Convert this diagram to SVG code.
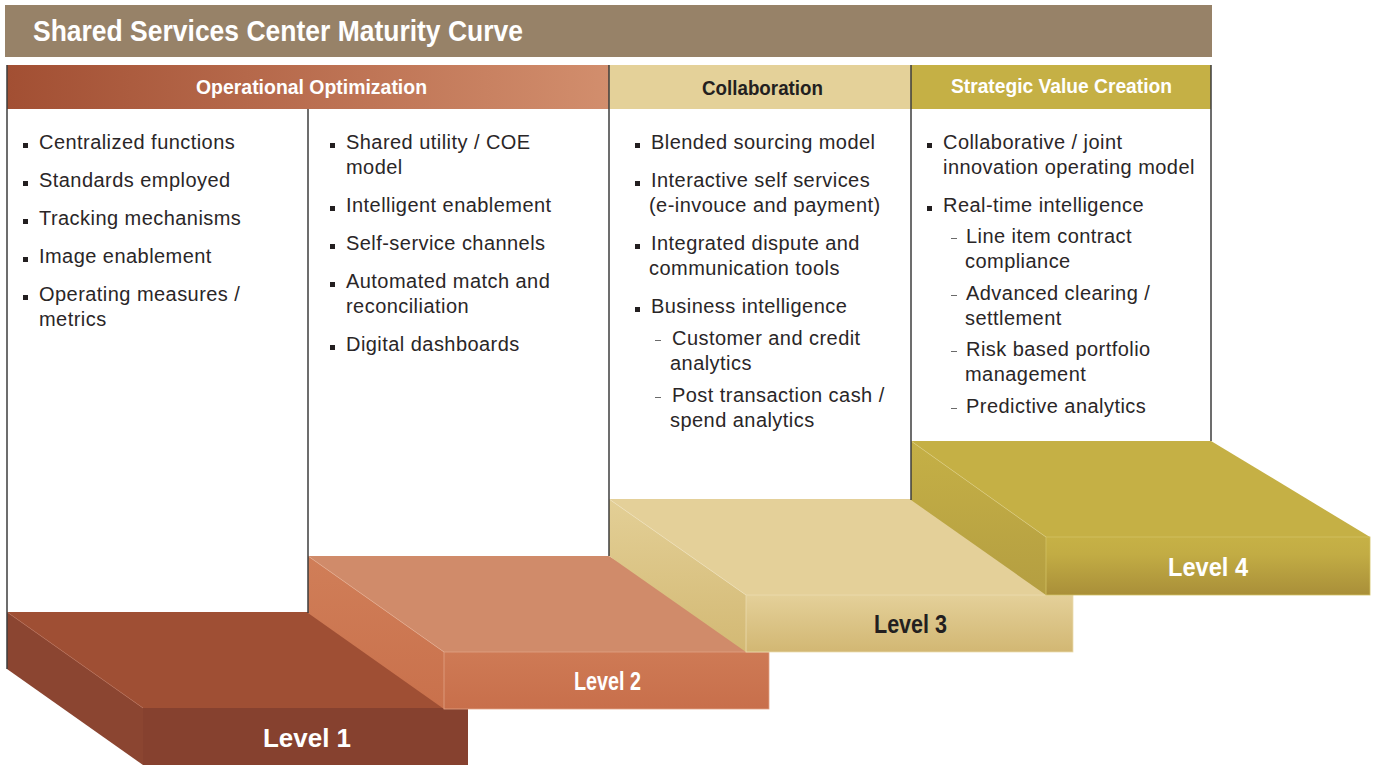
<svg xmlns="http://www.w3.org/2000/svg" width="1376" height="765" viewBox="0 0 1376 765">
<defs>
<linearGradient id="gOp" x1="0" y1="0" x2="1" y2="0"><stop offset="0" stop-color="#A24F33"/><stop offset="1" stop-color="#D28E6D"/></linearGradient>
<linearGradient id="g2L" x1="0" y1="0" x2="0" y2="1"><stop offset="0" stop-color="#D07E58"/><stop offset="1" stop-color="#C9714C"/></linearGradient>
<linearGradient id="g2F" x1="0" y1="0" x2="0" y2="1"><stop offset="0" stop-color="#CE7A55"/><stop offset="1" stop-color="#C86F4B"/></linearGradient>
<linearGradient id="g3L" x1="0" y1="0" x2="0" y2="1"><stop offset="0" stop-color="#E3CF96"/><stop offset="1" stop-color="#D3B974"/></linearGradient>
<linearGradient id="g3F" x1="0" y1="0" x2="0" y2="1"><stop offset="0" stop-color="#E4D099"/><stop offset="1" stop-color="#D2B773"/></linearGradient>
<linearGradient id="g4L" x1="0" y1="0" x2="0" y2="1"><stop offset="0" stop-color="#C5B046"/><stop offset="1" stop-color="#B49E41"/></linearGradient>
<linearGradient id="g4F" x1="0" y1="0" x2="0" y2="1"><stop offset="0" stop-color="#C6B146"/><stop offset="0.3" stop-color="#C2AC44"/><stop offset="1" stop-color="#A98F39"/></linearGradient>
</defs>
<style>
.hd{font-family:"Liberation Sans",Arial,sans-serif;font-weight:bold}
.tx{font-family:"Liberation Sans",Arial,sans-serif;font-size:20px;letter-spacing:0.45px;fill:#2a2627}
.bl{fill:#231F20}
.ds{fill:#6a6a6a}
.bd{stroke:#3c3c3c;stroke-width:1.5;fill:none}
.lv{font-family:"Liberation Sans",Arial,sans-serif;font-weight:bold;font-size:26px}
</style>
<rect width="1376" height="765" fill="#ffffff"/>

<g id="title">
<rect x="5" y="5" width="1207" height="52" fill="#978268"/>
<text class="hd" x="33" y="41" font-size="29" fill="#ffffff" textLength="490" lengthAdjust="spacingAndGlyphs">Shared Services Center Maturity Curve</text>
</g>

<g id="level1">
<polygon points="7,612 308,612 468,708 143,708" fill="#9F4F34"/>
<polygon points="7,612 143,708 143,765 7,669" fill="#8B4531"/>
<rect x="143" y="708" width="325" height="57" fill="#86412F"/>
<line x1="7" y1="612" x2="143" y2="708" stroke="#B86A50" stroke-width="0.6"/>
<text class="lv" x="263" y="747" fill="#ffffff" textLength="88" lengthAdjust="spacingAndGlyphs">Level 1</text>
</g>

<g id="level2">
<polygon points="308,556 609,556 769,652 444,652" fill="#D08B6A"/>
<polygon points="308,556 444,652 444,709 308,613" fill="url(#g2L)"/>
<rect x="444" y="652" width="325" height="57" fill="url(#g2F)" stroke="#E0A284" stroke-width="0.8"/>
<line x1="308" y1="556" x2="444" y2="652" stroke="#E6AE92" stroke-width="0.6"/>
<text class="lv" x="574" y="690" fill="#ffffff" font-size="25" textLength="67" lengthAdjust="spacingAndGlyphs">Level 2</text>
</g>

<g id="level3">
<polygon points="609,499 911,499 1073,595 746,595" fill="#E4D099"/>
<polygon points="609,499 746,595 746,652 609,556" fill="url(#g3L)"/>
<rect x="746" y="595" width="327" height="57" fill="url(#g3F)" stroke="#EADBAE" stroke-width="0.8"/>
<line x1="609" y1="499" x2="746" y2="595" stroke="#F0E3BD" stroke-width="0.6"/>
<text class="lv" x="874" y="633" fill="#231F20" textLength="73" lengthAdjust="spacingAndGlyphs">Level 3</text>
</g>

<g id="level4">
<polygon points="911,441 1211,441 1370,537 1046,537" fill="#C5B045"/>
<polygon points="911,441 1046,537 1046,595 911,500" fill="url(#g4L)"/>
<rect x="1046" y="537" width="324" height="58" fill="url(#g4F)" stroke="#D3C163" stroke-width="0.8"/>
<line x1="911" y1="441" x2="1046" y2="537" stroke="#DCCD7E" stroke-width="0.6"/>
<text class="lv" x="1168" y="576" fill="#ffffff" textLength="80" lengthAdjust="spacingAndGlyphs">Level 4</text>
</g>

<g id="header-operational">
<rect x="7" y="65" width="602" height="44" fill="url(#gOp)"/>
<text class="hd" x="196" y="94" font-size="21" fill="#ffffff" textLength="231" lengthAdjust="spacingAndGlyphs">Operational Optimization</text>
</g>
<g id="header-collaboration">
<rect x="609" y="65" width="302" height="44" fill="#E4D199"/>
<text class="hd" x="702" y="95" font-size="21" fill="#231F20" textLength="121" lengthAdjust="spacingAndGlyphs">Collaboration</text>
</g>
<g id="header-strategic">
<rect x="911" y="65" width="300" height="44" fill="#C5B045"/>
<text class="hd" x="951" y="93" font-size="21" fill="#ffffff" textLength="221" lengthAdjust="spacingAndGlyphs">Strategic Value Creation</text>
</g>

<g id="borders">
<line class="bd" x1="7" y1="65" x2="7" y2="669"/>
<line class="bd" x1="308" y1="109" x2="308" y2="613"/>
<line class="bd" x1="609" y1="65" x2="609" y2="556"/>
<line class="bd" x1="911" y1="65" x2="911" y2="500"/>
<line class="bd" x1="1211" y1="65" x2="1211" y2="441"/>
</g>

<g id="column1">
<rect class="bl" x="23" y="143" width="5" height="5"/>
<text class="tx" x="39" y="149">Centralized functions</text>
<rect class="bl" x="23" y="181" width="5" height="5"/>
<text class="tx" x="39" y="187">Standards employed</text>
<rect class="bl" x="23" y="219" width="5" height="5"/>
<text class="tx" x="39" y="225">Tracking mechanisms</text>
<rect class="bl" x="23" y="257" width="5" height="5"/>
<text class="tx" x="39" y="263">Image enablement</text>
<rect class="bl" x="23" y="295" width="5" height="5"/>
<text class="tx" x="39" y="301">Operating measures /</text>
<text class="tx" x="39" y="326">metrics</text>
</g>

<g id="column2">
<rect class="bl" x="330" y="143" width="5" height="5"/>
<text class="tx" x="346" y="149">Shared utility / COE</text>
<text class="tx" x="346" y="174">model</text>
<rect class="bl" x="330" y="206" width="5" height="5"/>
<text class="tx" x="346" y="212">Intelligent enablement</text>
<rect class="bl" x="330" y="244" width="5" height="5"/>
<text class="tx" x="346" y="250">Self-service channels</text>
<rect class="bl" x="330" y="282" width="5" height="5"/>
<text class="tx" x="346" y="288">Automated match and</text>
<text class="tx" x="346" y="313">reconciliation</text>
<rect class="bl" x="330" y="345" width="5" height="5"/>
<text class="tx" x="346" y="351">Digital dashboards</text>
</g>

<g id="column3">
<rect class="bl" x="635" y="143" width="5" height="5"/>
<text class="tx" x="651" y="149">Blended sourcing model</text>
<rect class="bl" x="635" y="181" width="5" height="5"/>
<text class="tx" x="651" y="187">Interactive self services</text>
<text class="tx" x="649" y="212">(e-invouce and payment)</text>
<rect class="bl" x="635" y="244" width="5" height="5"/>
<text class="tx" x="651" y="250">Integrated dispute and</text>
<text class="tx" x="649" y="275">communication tools</text>
<rect class="bl" x="635" y="307" width="5" height="5"/>
<text class="tx" x="651" y="313">Business intelligence</text>
<rect class="ds" x="655" y="340" width="6" height="1"/>
<text class="tx" x="672" y="345">Customer and credit</text>
<text class="tx" x="670" y="370">analytics</text>
<rect class="ds" x="655" y="397" width="6" height="1"/>
<text class="tx" x="672" y="402">Post transaction cash /</text>
<text class="tx" x="670" y="427">spend analytics</text>
</g>

<g id="column4">
<rect class="bl" x="927" y="143" width="5" height="5"/>
<text class="tx" x="943" y="149">Collaborative / joint</text>
<text class="tx" x="943" y="174">innovation operating model</text>
<rect class="bl" x="927" y="206" width="5" height="5"/>
<text class="tx" x="943" y="212">Real-time intelligence</text>
<rect class="ds" x="951" y="238" width="6" height="1"/>
<text class="tx" x="966" y="243">Line item contract</text>
<text class="tx" x="965" y="268">compliance</text>
<rect class="ds" x="951" y="295" width="6" height="1"/>
<text class="tx" x="966" y="300">Advanced clearing /</text>
<text class="tx" x="965" y="325">settlement</text>
<rect class="ds" x="951" y="351" width="6" height="1"/>
<text class="tx" x="966" y="356">Risk based portfolio</text>
<text class="tx" x="965" y="381">management</text>
<rect class="ds" x="951" y="408" width="6" height="1"/>
<text class="tx" x="966" y="413">Predictive analytics</text>
</g>
</svg>
